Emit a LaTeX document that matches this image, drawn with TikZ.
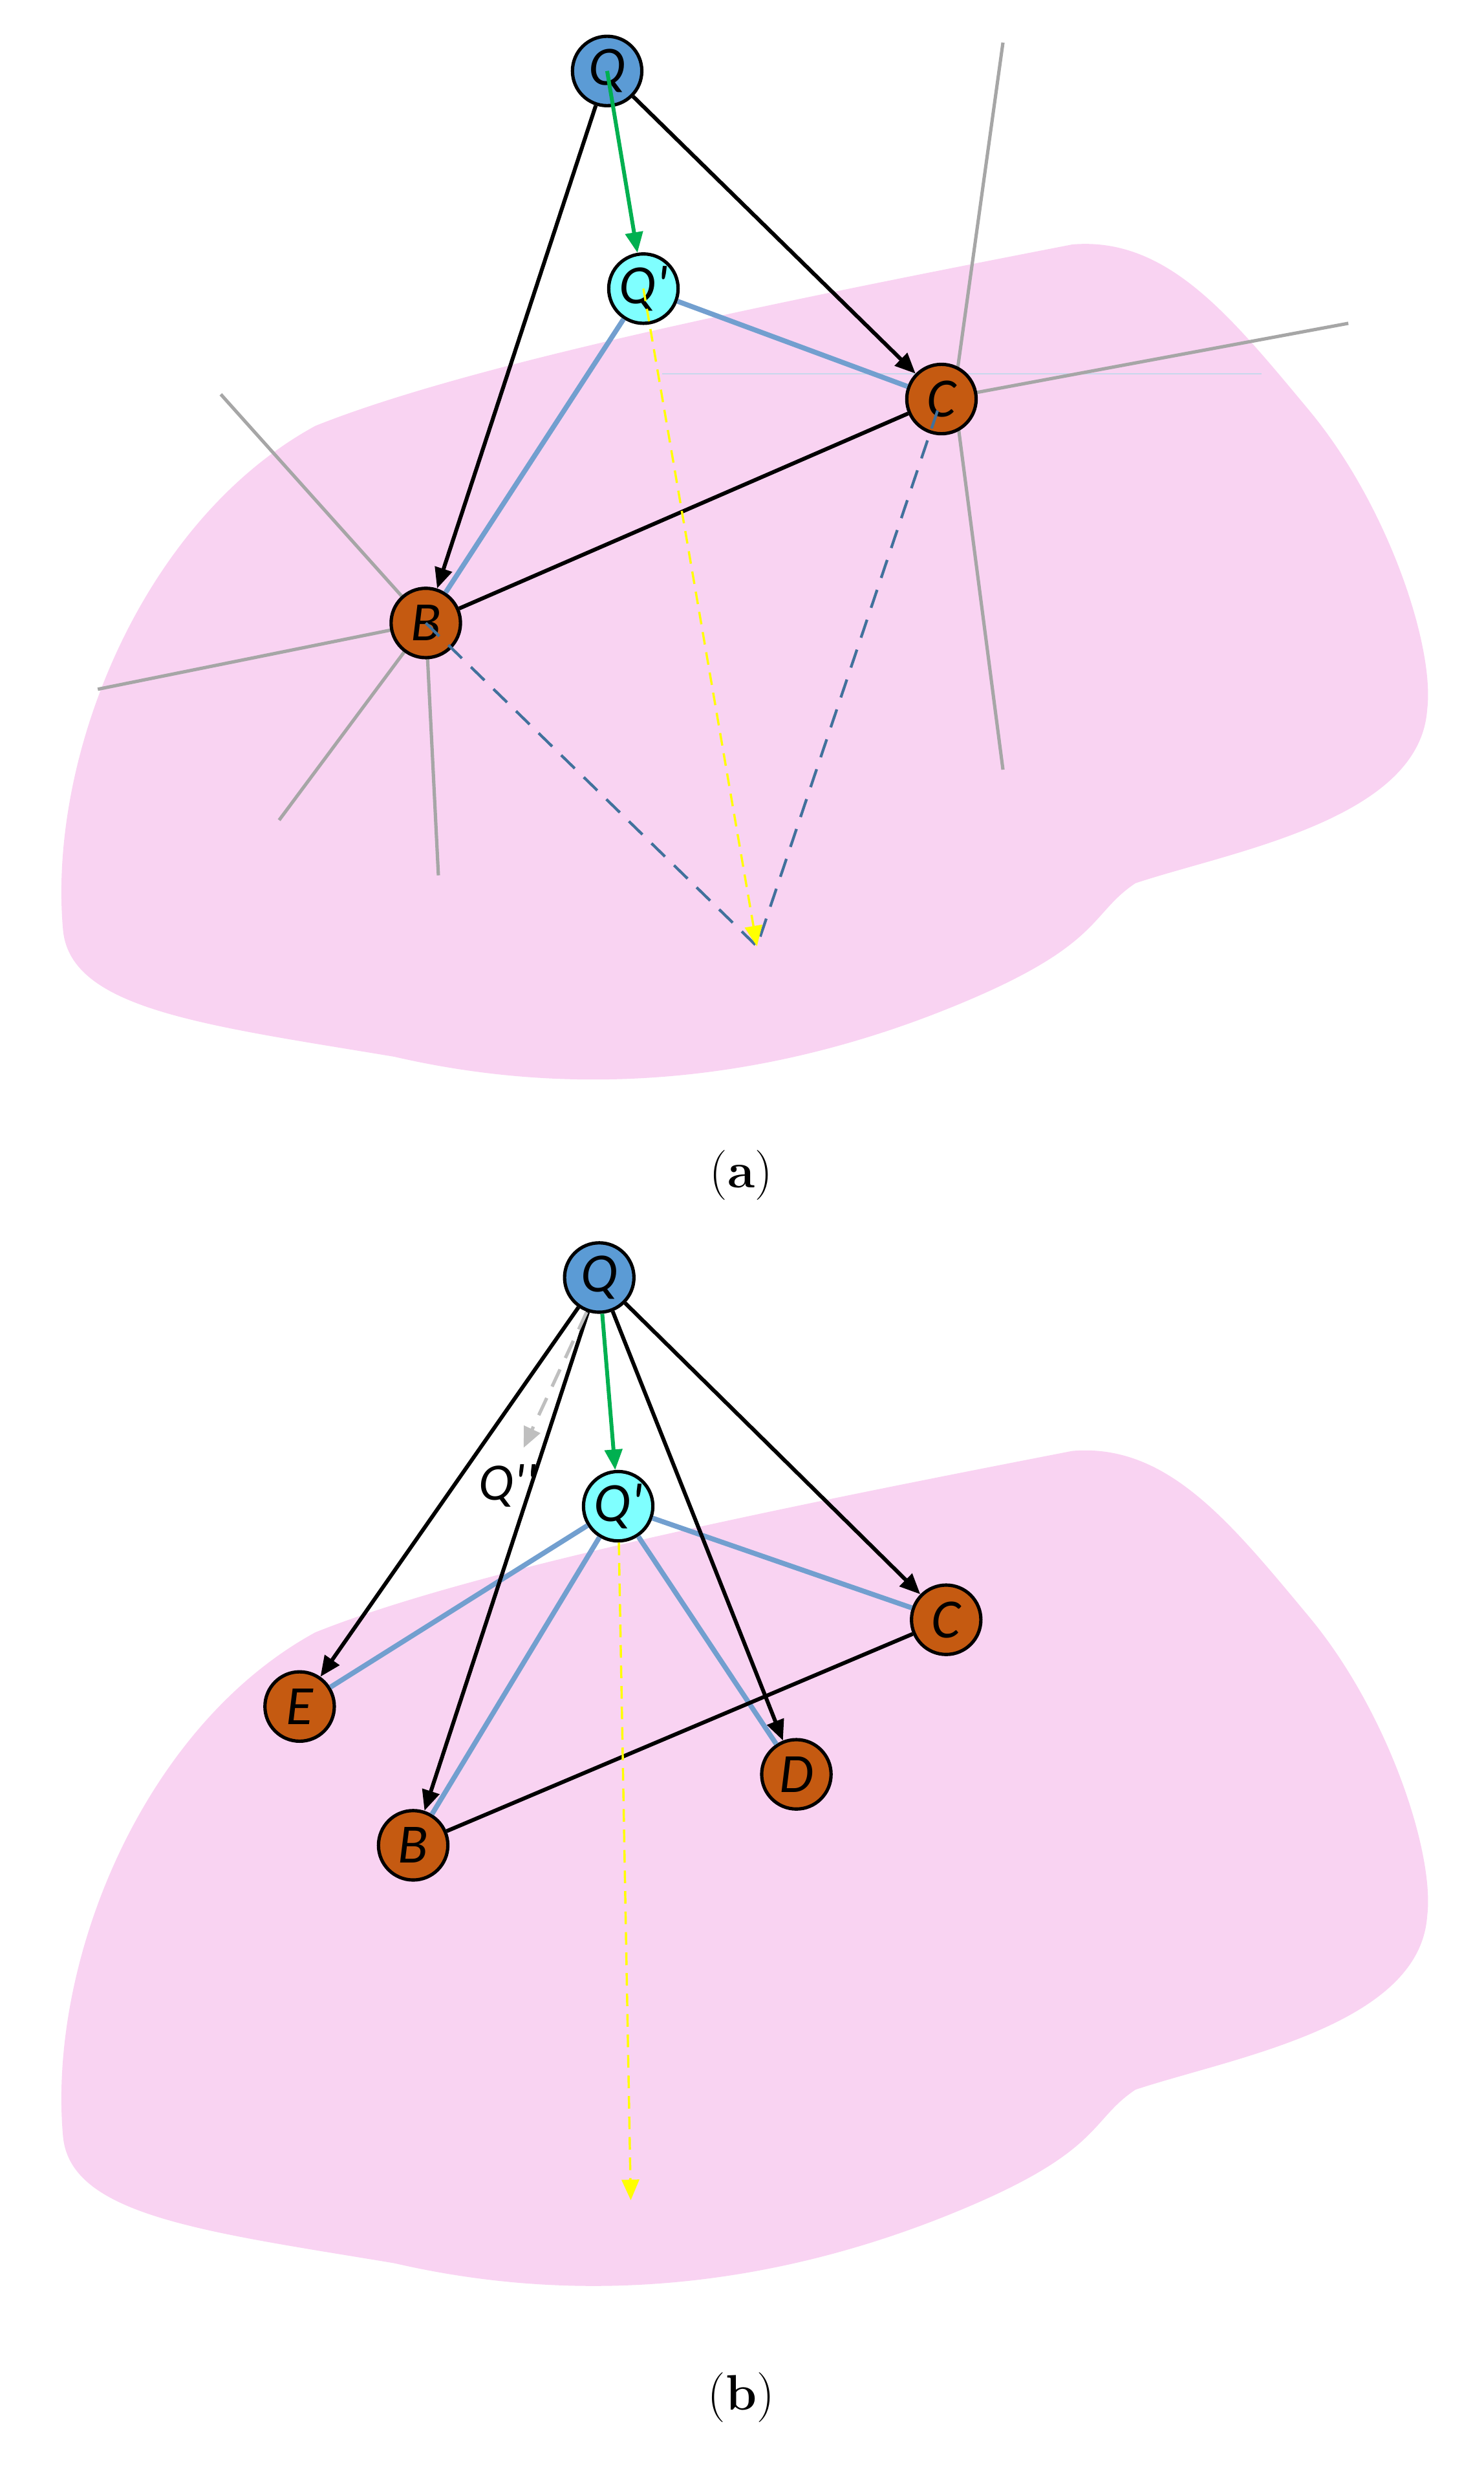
\documentclass[tikz,border=0pt]{standalone}
\usepackage{fontspec}
\newfontfamily\lbl{Carlito}
\newfontfamily\capfont{Latin Modern Roman}
\usetikzlibrary{arrows.meta}
\definecolor{blobc}{HTML}{F9D3F2}
\definecolor{qblue}{HTML}{5B9BD5}
\definecolor{qcyan}{HTML}{7FFFFF}
\definecolor{orn}{HTML}{C55A11}
\definecolor{lblue}{HTML}{729FCF}
\definecolor{dblue}{HTML}{41719C}
\definecolor{grn}{HTML}{00B050}
\definecolor{ylw}{HTML}{FFFF00}
\tikzset{
 x=0.1cm,y=-0.1cm,
 pt/.style={circle,draw=black,line width=6pt,minimum size=4.4cm,inner sep=0pt,font=\lbl\fontsize{100}{105}\selectfont\itshape},
 qn/.style={pt,fill=qblue},
 qp/.style={pt,fill=qcyan},
 on/.style={pt,fill=orn},
 arr/.style={line width=7pt,-{Triangle[length=1.3cm,width=1.1cm]}},
 bl/.style={line width=7pt},
 blu/.style={line width=9pt,lblue},
 gry/.style={line width=6pt,gray!70},
 captext/.style={font=\capfont\fontsize{90}{100}\selectfont}
}
\newcommand\blobshape{(40,590) .. controls (30,480) and (90,330) .. (200,270) .. controls (300,230) and (500,190) .. (680,155) .. controls (740,150) and (780,200) .. (830,260) .. controls (880,320) and (910,410) .. (905,450) .. controls (900,520) and (780,540) .. (720,560) .. controls (690,580) and (700,600) .. (600,640) .. controls (500,680) and (380,700) .. (250,670) .. controls (130,650) and (45,640) .. (40,590) -- cycle}
\begin{document}
\begin{tikzpicture}
\useasboundingbox (0,0) rectangle (941,1568);
% panel a
\fill[blobc] \blobshape;
\draw[line width=3pt,lblue!40] (420,237) -- (800,237);
\coordinate (ca) at (597,253);
\coordinate (ck) at (605,250);
\coordinate (ba) at (270,395);
\draw[gry] (636,27) -- (ck) -- (636,488);
\draw[gry] (855,205) -- (ca);
\draw[gry] (140,250) -- (ba);
\draw[gry] (62,437) -- (ba);
\draw[gry] (177,520) -- (ba);
\draw[gry] (278,555) -- (ba);
\coordinate (Ta) at (480,600);
\node[qn] (Q) at (385,45) {Q};
\node[qp] (Qp) at (408,183) {Q'};
\node[on] (C) at (597,253) {C};
\node[on] (B) at (270,395) {B};
\draw[blu] (Qp) -- (B);
\draw[blu] (Qp) -- (C);
\draw[bl] (B) -- (C);
\draw[arr] (Q) -- (B);
\draw[arr] (Q) -- (C);
\draw[arr,grn] (Q.center) -- (Qp);
\draw[line width=5pt,dblue,dash pattern=on 1.2cm off 0.8cm] (B.center) -- (Ta) -- (C.center);
\draw[line width=4pt,ylw,dash pattern=on 0.8cm off 0.5cm,-{Triangle[length=1.3cm,width=1.1cm]}] (Qp.center) -- (Ta);
\node[captext] (capa) at (470,745) {(\textbf{a})};
% panel b
\begin{scope}[yshift=-76.5cm]
\fill[blobc] \blobshape;
\end{scope}
\node[qn] (Q2) at (380,810) {Q};
\node[qp] (Qp2) at (392,955) {Q'};
\node[on] (C2) at (600,1027) {C};
\node[on] (E2) at (190,1082) {E};
\node[on] (B2) at (262,1170) {B};
\node[on] (D2) at (505,1125) {D};
\coordinate (Qpp) at (332,918);
\node[font=\lbl\fontsize{95}{100}\selectfont\itshape] (Qpl) at (322,942) {Q''};
\draw[blu] (Qp2) -- (E2);
\draw[blu] (Qp2) -- (B2);
\draw[blu] (Qp2) -- (D2);
\draw[blu] (Qp2) -- (C2);
\draw[bl] (B2) -- (C2);
\draw[arr] (Q2) -- (E2);
\draw[arr] (Q2) -- (B2);
\draw[arr] (Q2) -- (D2);
\draw[arr] (Q2) -- (C2);
\draw[line width=6pt,gray!50,dash pattern=on 1.2cm off 0.8cm,-{Triangle[length=1.3cm,width=1.1cm]}] (372,832) -- (Qpp);
\draw[arr,grn] (Q2) -- (Qp2);
\coordinate (Tb) at (400,1395);
\draw[line width=4pt,ylw,dash pattern=on 0.8cm off 0.5cm,-{Triangle[length=1.3cm,width=1.1cm]}] (Qp2) -- (Tb);
\node[captext] (capb) at (470,1520) {(\textbf{b})};
\end{tikzpicture}
\end{document}
